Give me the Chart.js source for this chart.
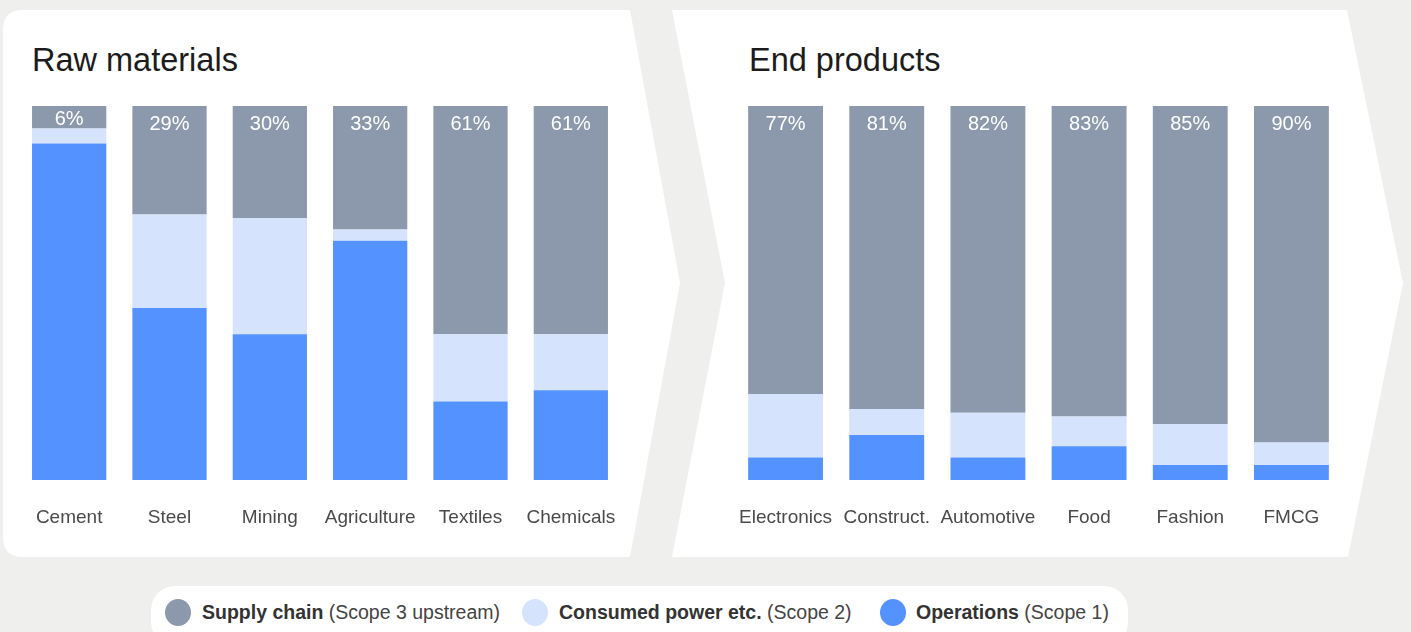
<!DOCTYPE html>
<html>
<head>
<meta charset="utf-8">
<script src="https://cdn.jsdelivr.net/npm/chart.js@4.4.1/dist/chart.umd.min.js"></script>
<style>
  html, body { margin: 0; padding: 0; }
  body { width: 1411px; height: 632px; background: #efefed; position: relative; overflow: hidden; font-family: "Liberation Sans", Arial, sans-serif; }
  #bg { position: absolute; left: 0; top: 0; }
  .cv { position: absolute; top: 0; }
  .title { position: absolute; top: 42px; font-size: 32.5px; line-height: 36px; color: #1c1c1c; white-space: nowrap; }
  #legend { position: absolute; left: 151px; top: 586px; width: 977px; height: 60px; background: #fff; border-radius: 24px; }
  .li { position: absolute; top: 13px; height: 27px; line-height: 27px; font-size: 19.5px; color: #444; white-space: nowrap; }
  .li b { color: #333; font-weight: bold; }
  .dot { position: absolute; top: 13px; width: 26px; height: 27px; border-radius: 50%; }
</style>
</head>
<body>
<svg id="bg" width="1411" height="632">
  <path d="M 23 10 L 630 10 L 680 283 L 630 557 L 23 557 Q 3 557 3 537 L 3 30 Q 3 10 23 10 Z" fill="#ffffff"/>
  <path d="M 672 10 L 1347 10 L 1403 283 L 1348 557 L 672 557 L 725 283 Z" fill="#ffffff"/>
</svg>
<div class="title" style="left:32px">Raw materials</div>
<div class="title" style="left:749px">End products</div>
<canvas id="c1" class="cv" style="left:0px" width="700" height="570"></canvas>
<canvas id="c2" class="cv" style="left:700px" width="711" height="570"></canvas>
<div id="legend">
  <div class="dot" style="left:14px; background:#8c98ac"></div>
  <div class="li" style="left:51px"><b>Supply chain</b> (Scope 3 upstream)</div>
  <div class="dot" style="left:371px; background:#d5e3fd"></div>
  <div class="li" style="left:408px"><b>Consumed power etc.</b> (Scope 2)</div>
  <div class="dot" style="left:729px; background:#5392ff"></div>
  <div class="li" style="left:765px"><b>Operations</b> (Scope 1)</div>
</div>
<script>
// ---- Data ----
const rawCategories = ["Cement", "Steel", "Mining", "Agriculture", "Textiles", "Chemicals"];
const rawOperations = [90, 46, 39, 64, 21, 24];
const rawPower      = [4, 25, 31, 3, 18, 15];
const rawSupply     = [6, 29, 30, 33, 61, 61];

const endCategories = ["Electronics", "Construct.", "Automotive", "Food", "Fashion", "FMCG"];
const endOperations = [6, 12, 6, 9, 4, 4];
const endPower      = [17, 7, 12, 8, 11, 6];
const endSupply     = [77, 81, 82, 83, 85, 90];

const seriesNames = ["Operations (Scope 1)", "Consumed power etc. (Scope 2)", "Supply chain (Scope 3 upstream)"];
const seriesColors = ["#5392ff", "#d5e3fd", "#8c98ac"];

const FONT = '"Liberation Sans", Arial, sans-serif';

const pctLabels = {
  id: 'pctLabels',
  afterDatasetsDraw(chart) {
    const ctx = chart.ctx;
    const meta = chart.getDatasetMeta(2);
    const vals = chart.data.datasets[2].data;
    ctx.save();
    ctx.fillStyle = '#ffffff';
    ctx.font = '20px ' + FONT;
    ctx.textAlign = 'center';
    ctx.textBaseline = 'middle';
    meta.data.forEach((bar, i) => {
      const top = bar.y, bottom = bar.base;
      const y = Math.min(top + 18, (top + bottom) / 2 + 2);
      ctx.fillText(vals[i] + '%', bar.x, y);
    });
    ctx.restore();
  }
};

function makeChart(id, cats, ops, pow, sup, padLeft, padRight) {
  const data = [ops, pow, sup];
  new Chart(document.getElementById(id), {
    type: 'bar',
    data: {
      labels: cats,
      datasets: data.map((d, k) => ({
        label: seriesNames[k],
        data: d,
        backgroundColor: seriesColors[k],
        borderWidth: 0,
        barPercentage: 0.74,
        categoryPercentage: 1.0
      }))
    },
    options: {
      responsive: false,
      animation: false,
      layout: { padding: { left: padLeft, right: padRight, top: 106, bottom: 30 } },
      plugins: { legend: { display: false }, tooltip: { enabled: false }, title: { display: false } },
      scales: {
        x: {
          stacked: true,
          grid: { display: false },
          border: { display: false },
          ticks: { color: '#4a4a4a', font: { family: FONT, size: 19 }, padding: 18, autoSkip: false, maxRotation: 0 },
          afterFit(scale) { scale.height = 60; }
        },
        y: { stacked: true, display: false, min: 0, max: 100 }
      }
    },
    plugins: [pctLabels]
  });
}

makeChart('c1', rawCategories, rawOperations, rawPower, rawSupply, 19, 79);
makeChart('c2', endCategories, endOperations, endPower, endSupply, 35, 69);
</script>
</body>
</html>
